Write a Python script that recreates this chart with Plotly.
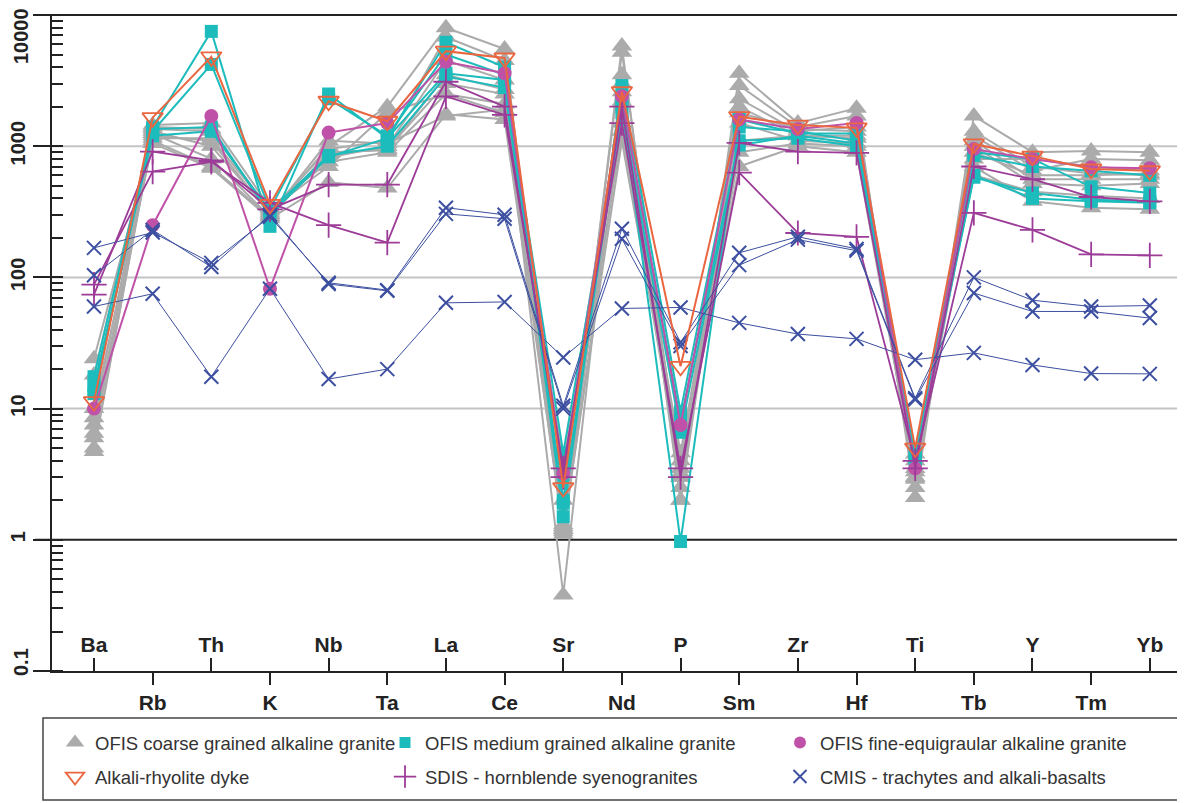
import math
import plotly.graph_objects as go

elements = ['Ba', 'Rb', 'Th', 'K', 'Nb', 'Ta', 'La', 'Ce', 'Sr', 'Nd',
            'P', 'Sm', 'Zr', 'Hf', 'Ti', 'Tb', 'Y', 'Tm', 'Yb']

# OFIS coarse grained alkaline granite (grey triangles)
coarse_1 = [5, 1200, 1100, 300, 1000, 2000, 8000, 5500, 1.2, 5800, 2.0, 3600, 1500, 1950, 2.1, 1700, 900, 920, 900]
coarse_2 = [6, 1350, 1300, 320, 950, 1100, 6800, 4500, 1.3, 5200, 3.0, 2900, 1400, 1700, 3.0, 1300, 700, 620, 600]
coarse_3 = [7.5, 1100, 700, 290, 880, 950, 3000, 2500, 0.38, 3500, 2.0, 2000, 1200, 1150, 3.5, 1100, 560, 560, 560]
coarse_4 = [8.5, 1450, 1500, 340, 760, 900, 2500, 2100, 1.1, 1500, 4.6, 1500, 1100, 1050, 4.0, 900, 600, 600, 620]
coarse_5 = [10, 1050, 680, 280, 530, 480, 1750, 1600, 1.2, 1100, 3.5, 700, 1000, 900, 2.9, 700, 380, 340, 330]
coarse_6 = [4.7, 1300, 1000, 310, 820, 1000, 4500, 3200, 1.15, 3000, 2.5, 2300, 1300, 1400, 3.3, 1000, 520, 500, 520]
coarse_7 = [24, 1150, 1150, 330, 700, 1800, 2500, 1800, 4.0, 2200, 4.0, 1100, 1200, 1200, 4.5, 600, 450, 420, 400]
coarse_8 = [18, 1400, 1350, 300, 1100, 1050, 1700, 1900, 2.0, 1300, 3.0, 900, 1050, 1000, 3.0, 800, 800, 700, 650]
coarse_9 = [6.5, 1250, 800, 290, 900, 930, 3500, 2700, 1.25, 2600, 3.2, 1800, 1350, 1300, 2.5, 1200, 650, 800, 780]

# OFIS medium grained alkaline granite (teal squares)
medium_1 = [17.5, 1400, 7500, 245, 2500, 1150, 6200, 4000, 1.5, 2900, 9.5, 1600, 1250, 1250, 4.2, 900, 800, 490, 440]
medium_2 = [14, 1300, 4200, 330, 2300, 1200, 5000, 3500, 1.9, 2000, 0.97, 1400, 1300, 1100, 4.5, 850, 700, 650, 600]
medium_3 = [13, 1350, 1400, 300, 830, 1150, 3600, 3200, 4.6, 1800, 6.6, 1020, 1200, 1050, 4.0, 580, 440, 390, 380]
medium_4 = [15, 1200, 1300, 320, 850, 1000, 3400, 2800, 2.0, 2200, 8.0, 1100, 1150, 1000, 4.3, 600, 400, 380, 370]

# OFIS fine-equigranular alkaline granite (magenta circles)
fine_1 = [10, 250, 1700, 82, 1270, 1500, 4400, 3600, 3.2, 2400, 7.5, 1600, 1350, 1500, 3.5, 950, 800, 690, 680]

# Alkali-rhyolite dyke (orange open triangles)
dyke_1 = [11.3, 1650, 4800, 360, 2200, 1550, 5300, 4700, 2.5, 2600, 21, 1680, 1450, 1380, 5.0, 1040, 840, 670, 650]

# SDIS - hornblende syenogranites (purple crosses)
sdis_1 = [74, 910, 780, 330, 510, 510, 3100, 2000, 3.0, 2000, 3.0, 1060, 910, 890, 3.5, 700, 560, 410, 380]
sdis_2 = [88, 640, 760, 370, 250, 184, 2400, 1730, 3.5, 1500, 3.5, 630, 218, 204, 4.0, 310, 230, 150, 147]

# CMIS - trachytes and alkali-basalts (blue x)
cmis_1 = [168, 220, 129, 290, 91, 80, 340, 300, 10.5, 235, 32, 154, 204, 165, 12, 100, 67, 60, 61]
cmis_2 = [104, 230, 120, 300, 89, 79, 305, 280, 10.0, 197, 30, 124, 194, 160, 11.7, 76, 55, 55, 49]
cmis_3 = [60, 75, 17.5, 82, 16.8, 20, 64, 65, 24.5, 58, 59, 45, 37, 34, 23.6, 26.6, 21.5, 18.5, 18.4]

y_ticks = [0.1, 1, 10, 100, 1000, 10000]
y_tick_text = ['0.1', '1', '10', '100', '1000', '10000']
grey_grid = [10, 100, 1000]
dark_grid = [1, 10000]

groups = [
    dict(name='OFIS coarse grained alkaline granite', data=[coarse_1, coarse_2, coarse_3, coarse_4, coarse_5,
                                                          coarse_6, coarse_7, coarse_8, coarse_9],
         color='#ababab', symbol='triangle-up', size=18, lw=2, legend='legend', mline=0, lsize=20),
    dict(name='OFIS medium grained alkaline granite', data=[medium_1, medium_2, medium_3, medium_4],
         color='#1dbcbc', symbol='square', size=13, lw=2, legend='legend2', mline=0, lsize=11),
    dict(name='OFIS fine-equigraular alkaline granite', data=[fine_1],
         color='#bf52a8', symbol='circle', size=14, lw=2, legend='legend3', mline=0, lsize=12),
    dict(name='SDIS - hornblende syenogranites', data=[sdis_1, sdis_2],
         color='#9c3c98', symbol='cross-thin-open', size=18, lw=1.8, legend='legend5', mline=1.8, lsize=17),
    dict(name='CMIS - trachytes and alkali-basalts', data=[cmis_1, cmis_2, cmis_3],
         color='#3c4fa0', symbol='x-thin-open', size=14, lw=1, legend='legend6', mline=2, lsize=13),
    dict(name='Alkali-rhyolite dyke', data=[dyke_1],
         color='#ea6640', symbol='triangle-down-open', size=18, lw=2, legend='legend4', mline=1.8, lsize=19),
]

fig = go.Figure()
idx = list(range(len(elements)))
for g in groups:
    for series in g['data']:
        fig.add_trace(go.Scatter(
            x=idx, y=series, mode='lines+markers', name=g['name'],
            legendgroup=g['name'], showlegend=False,
            line=dict(color=g['color'], width=g['lw']),
            marker=dict(symbol=g['symbol'], size=g['size'], color=g['color'],
                        line=dict(color=g['color'], width=g['mline'])),
            hoverinfo='x+y+name',
        ))
# legend-only entries (symbol without line)
for g in groups:
    fig.add_trace(go.Scatter(
        x=[None], y=[None], mode='markers', name=g['name'], legendgroup=g['name'],
        showlegend=True, legend=g['legend'],
        marker=dict(symbol=g['symbol'], size=g['lsize'], color=g['color'],
                    line=dict(color=g['color'], width=g['mline'])),
    ))
# empty trace to create the overlaid tick axis for the upper row of element names
fig.add_trace(go.Scatter(x=[None], y=[None], xaxis='x2', mode='markers',
                         showlegend=False, hoverinfo='skip'))

# geometry: the page body adds an 8px offset, so the figure is 8px smaller
OFF = 8
W, H = 1185 - OFF, 803 - OFF
L, R, T, B = 52 - OFF, 0, 15 - OFF, 132
pw, ph = W - L - R, H - T - B      # 1133 x 656
PLOT_LEFT, PLOT_BOTTOM = 52, 671   # page pixels

def px_x(xpix):
    return (xpix - PLOT_LEFT) / pw

def px_y(ypix):
    return (PLOT_BOTTOM - ypix) / ph

yr = [-1, 4]

def y_frac(v):
    return (math.log10(v) - yr[0]) / (yr[1] - yr[0])

axis_color = '#222222'
tick_font = dict(family='Liberation Sans, Arial, sans-serif', size=21, color='#222222', weight='bold')
ytick_font = dict(family='Liberation Sans, Arial, sans-serif', size=20, color='#222222', weight='bold')

odd_vals = [i for i in idx if i % 2 == 1]
even_vals = [i for i in idx if i % 2 == 0]
xr = [-0.716, 18.6]

shapes = []
for v in grey_grid:
    shapes.append(dict(type='line', xref='paper', yref='paper', x0=0, x1=1,
                       y0=y_frac(v), y1=y_frac(v), line=dict(color='#c4c4c4', width=2),
                       layer='below'))
for v in dark_grid:
    shapes.append(dict(type='line', xref='paper', yref='paper', x0=px_x(35), x1=1,
                       y0=y_frac(v), y1=y_frac(v), line=dict(color=axis_color, width=2),
                       layer='below'))
shapes.append(dict(type='rect', xref='paper', yref='paper', x0=px_x(43), x1=px_x(1200),
                   y0=px_y(800), y1=px_y(718), line=dict(color='#444444', width=1.5),
                   fillcolor='rgba(0,0,0,0)'))

# end labels of the y axis sit inside the axis span, as in the original
mid_text = [t if 0 < i < len(y_tick_text) - 1 else '' for i, t in enumerate(y_tick_text)]
annotations = [
    dict(text=y_tick_text[-1], xref='paper', yref='paper', x=px_x(21), y=px_y(36),
         xanchor='center', yanchor='middle', textangle=-90, showarrow=False, font=ytick_font),
    dict(text=y_tick_text[0], xref='paper', yref='paper', x=px_x(21), y=px_y(662),
         xanchor='center', yanchor='middle', textangle=-90, showarrow=False, font=ytick_font),
]

fig.update_layout(
    width=W, height=H,
    margin=dict(l=L, r=R, t=T, b=B, autoexpand=False),
    plot_bgcolor='white', paper_bgcolor='white',
    showlegend=True,
    xaxis=dict(
        range=xr, tickmode='array', tickvals=odd_vals,
        ticktext=[elements[i] for i in odd_vals],
        ticks='outside', ticklen=12, tickwidth=2, tickcolor=axis_color,
        showline=True, linecolor=axis_color, linewidth=2, showgrid=False,
        zeroline=False, tickfont=tick_font, ticklabelstandoff=0, automargin=False,
    ),
    xaxis2=dict(
        overlaying='x', anchor='y', side='bottom',
        range=xr, tickmode='array', tickvals=even_vals,
        ticktext=[elements[i] for i in even_vals],
        ticks='inside', ticklen=13, tickwidth=2, tickcolor=axis_color,
        ticklabelposition='inside', ticklabeloverflow='allow', ticklabelstandoff=3,
        showline=False, showgrid=False, automargin=False,
        zeroline=False, tickfont=tick_font,
    ),
    yaxis=dict(
        type='log', range=yr,
        tickmode='array', tickvals=y_ticks, ticktext=mid_text,
        tickangle=-90, ticks='outside', ticklen=17, tickwidth=2, tickcolor=axis_color,
        ticklabeloverflow='allow', automargin=False,
        showline=True, linecolor=axis_color, linewidth=2,
        showgrid=False, zeroline=False, tickfont=ytick_font,
        minor=dict(ticks='inside', ticklen=11, tickwidth=1.5, tickcolor=axis_color,
                   showgrid=False, dtick='D1'),
    ),
    shapes=shapes,
    annotations=annotations,
)

leg_font = dict(family='Liberation Sans, Arial, sans-serif', size=18.5, color='#333333')
leg_pos = {
    'legend': (55, 743), 'legend2': (385, 743), 'legend3': (780, 743),
    'legend4': (55, 777), 'legend5': (385, 777), 'legend6': (780, 777),
}
layout_legends = {}
for key, (lx, ly) in leg_pos.items():
    layout_legends[key] = dict(
        x=px_x(lx), y=px_y(ly), xanchor='left', yanchor='middle',
        bgcolor='rgba(0,0,0,0)', borderwidth=0, font=leg_font,
        itemsizing='trace',
    )
fig.update_layout(**layout_legends)

fig.write_html('out.html')
